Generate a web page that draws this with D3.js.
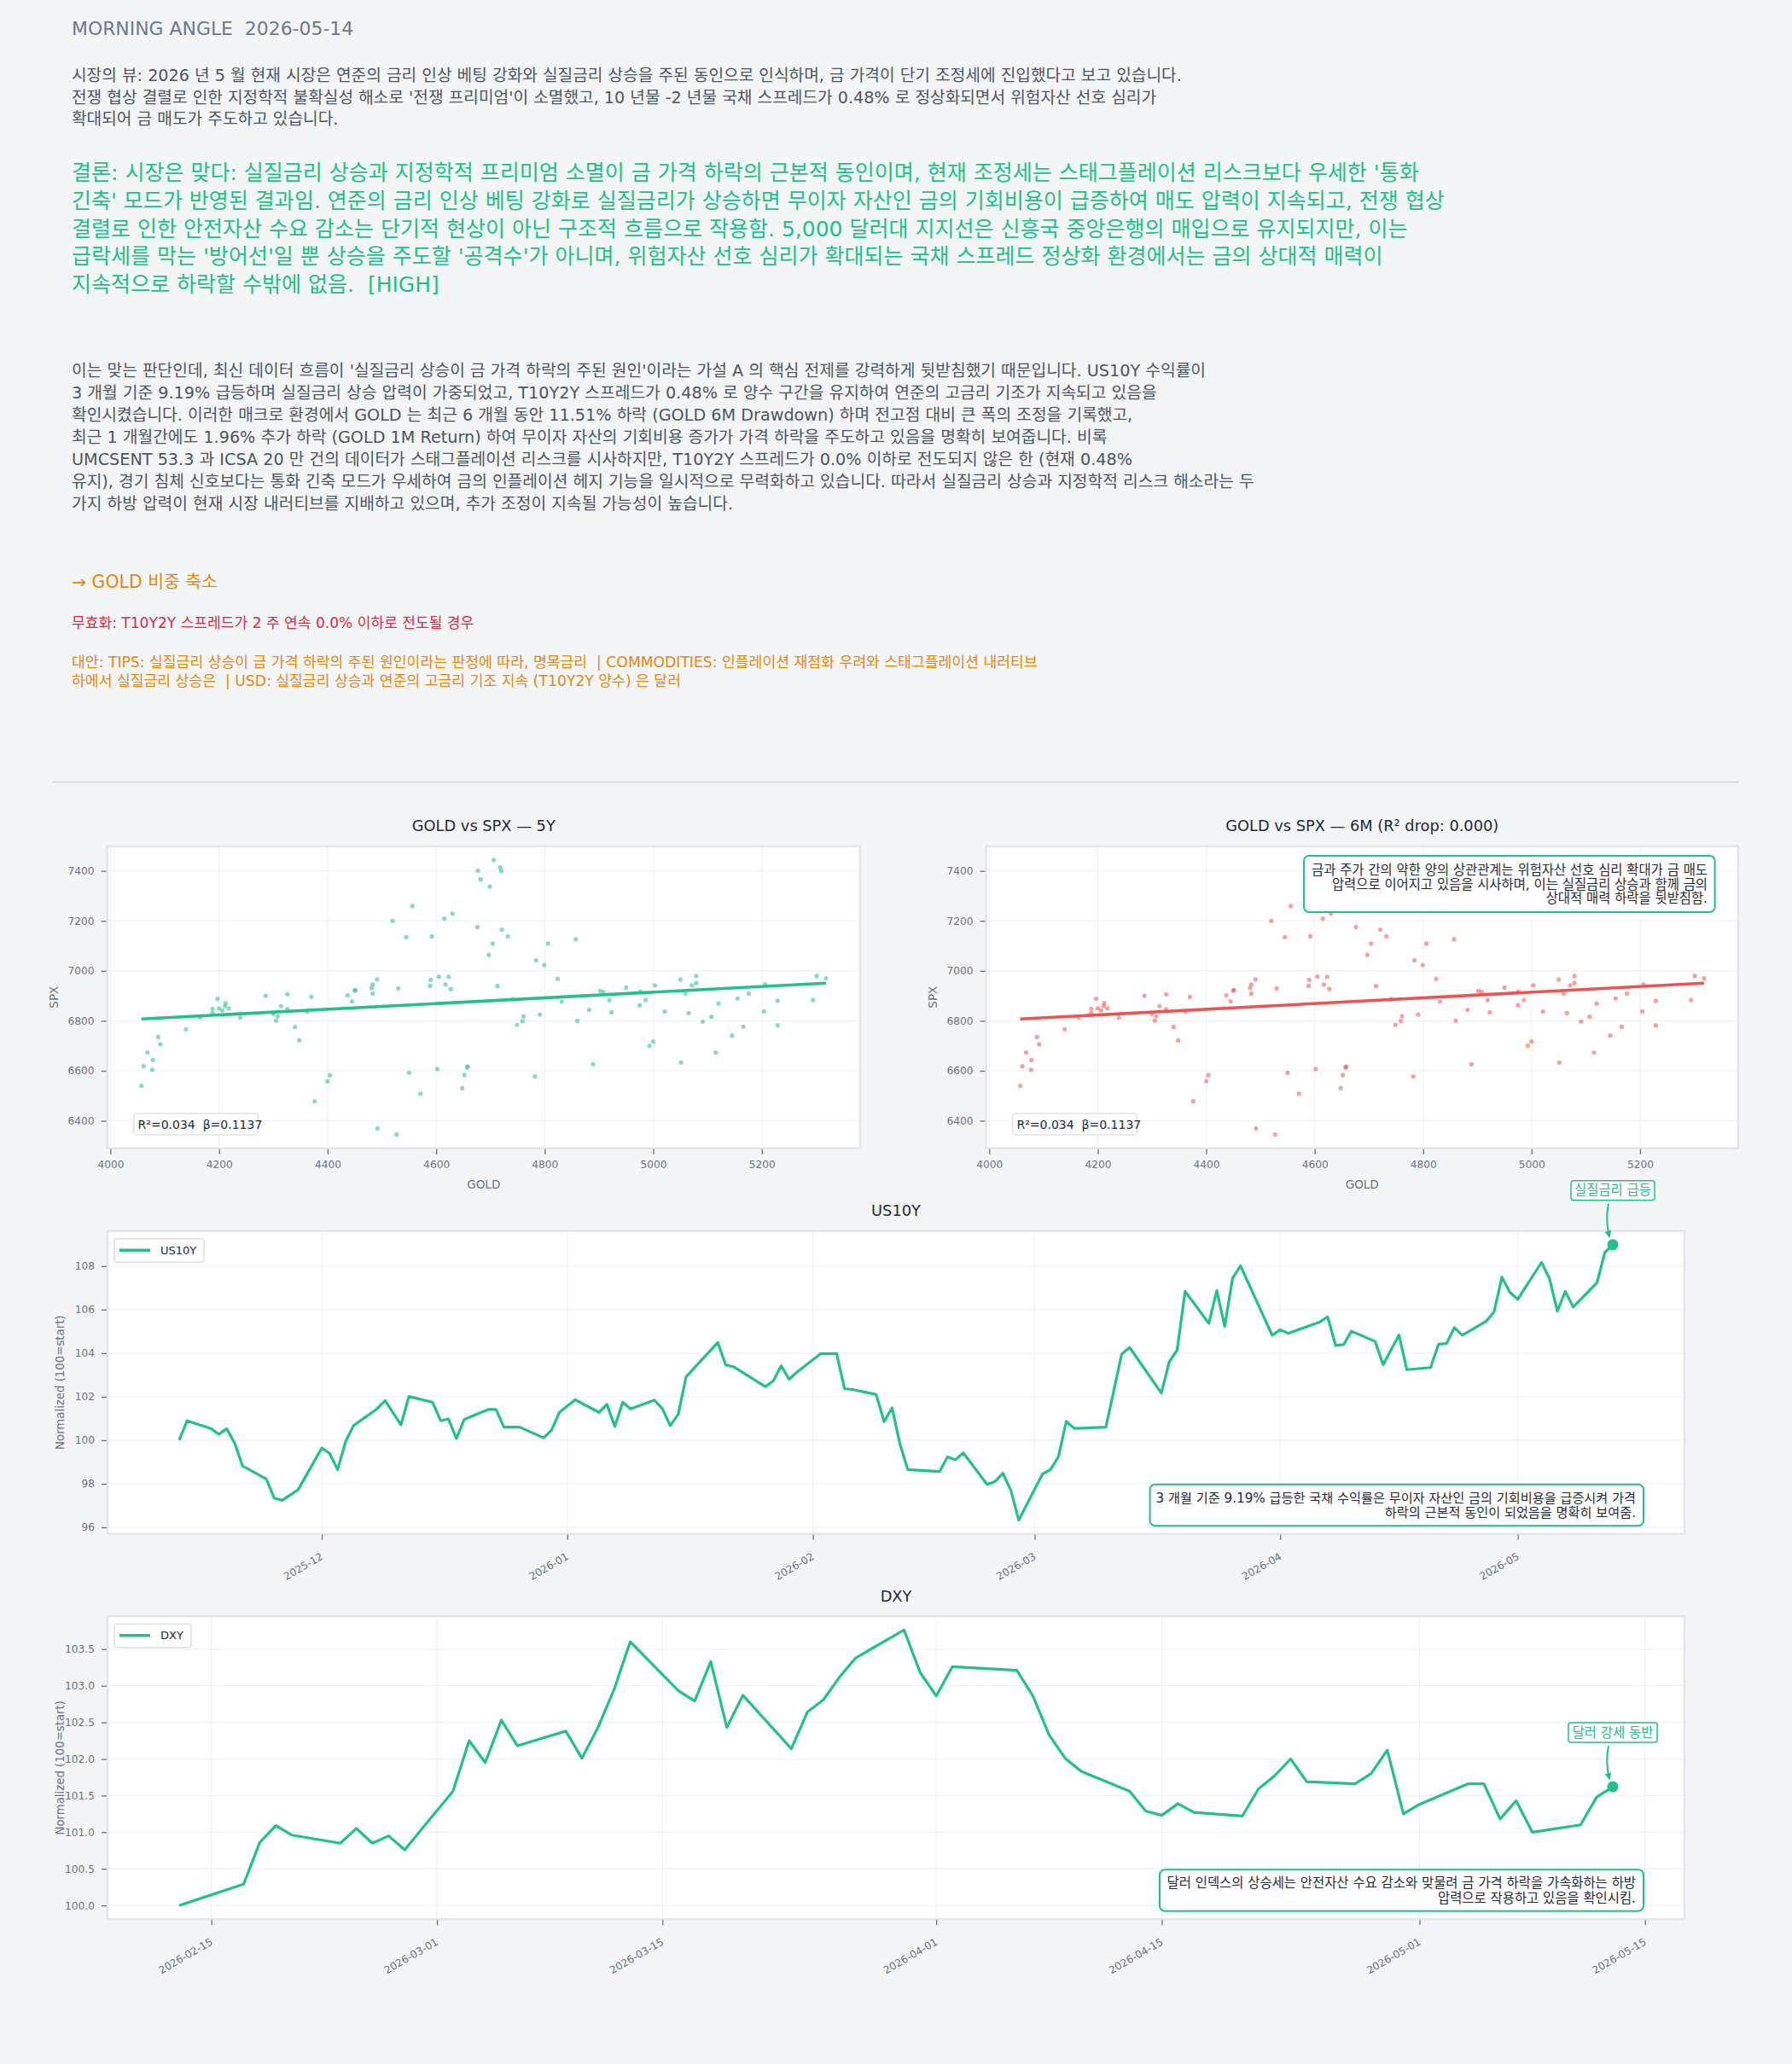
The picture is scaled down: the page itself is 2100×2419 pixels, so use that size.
<!DOCTYPE html>
<html><head><meta charset="utf-8">
<script src="https://cdn.jsdelivr.net/npm/d3@7"></script>
<style>
html,body{margin:0;padding:0;background:#f4f5f7;}
svg{display:block;}
</style></head><body>
<svg id="c" width="2100" height="2419"></svg>
<script>
// ---------------- DATA ----------------
const headerTitle = "MORNING ANGLE  2026-05-14";
const viewLines = [
  "시장의 뷰: 2026 년 5 월 현재 시장은 연준의 금리 인상 베팅 강화와 실질금리 상승을 주된 동인으로 인식하며, 금 가격이 단기 조정세에 진입했다고 보고 있습니다.",
  "전쟁 협상 결렬로 인한 지정학적 불확실성 해소로 '전쟁 프리미엄'이 소멸했고, 10 년물 -2 년물 국채 스프레드가 0.48% 로 정상화되면서 위험자산 선호 심리가",
  "확대되어 금 매도가 주도하고 있습니다."
];
const conclusionLines = [
  "결론: 시장은 맞다: 실질금리 상승과 지정학적 프리미엄 소멸이 금 가격 하락의 근본적 동인이며, 현재 조정세는 스태그플레이션 리스크보다 우세한 '통화",
  "긴축' 모드가 반영된 결과임. 연준의 금리 인상 베팅 강화로 실질금리가 상승하면 무이자 자산인 금의 기회비용이 급증하여 매도 압력이 지속되고, 전쟁 협상",
  "결렬로 인한 안전자산 수요 감소는 단기적 현상이 아닌 구조적 흐름으로 작용함. 5,000 달러대 지지선은 신흥국 중앙은행의 매입으로 유지되지만, 이는",
  "급락세를 막는 '방어선'일 뿐 상승을 주도할 '공격수'가 아니며, 위험자산 선호 심리가 확대되는 국채 스프레드 정상화 환경에서는 금의 상대적 매력이",
  "지속적으로 하락할 수밖에 없음.  [HIGH]"
];
const bodyLines = [
  "이는 맞는 판단인데, 최신 데이터 흐름이 '실질금리 상승이 금 가격 하락의 주된 원인'이라는 가설 A 의 핵심 전제를 강력하게 뒷받침했기 때문입니다. US10Y 수익률이",
  "3 개월 기준 9.19% 급등하며 실질금리 상승 압력이 가중되었고, T10Y2Y 스프레드가 0.48% 로 양수 구간을 유지하여 연준의 고금리 기조가 지속되고 있음을",
  "확인시켰습니다. 이러한 매크로 환경에서 GOLD 는 최근 6 개월 동안 11.51% 하락 (GOLD 6M Drawdown) 하며 전고점 대비 큰 폭의 조정을 기록했고,",
  "최근 1 개월간에도 1.96% 추가 하락 (GOLD 1M Return) 하여 무이자 자산의 기회비용 증가가 가격 하락을 주도하고 있음을 명확히 보여줍니다. 비록",
  "UMCSENT 53.3 과 ICSA 20 만 건의 데이터가 스태그플레이션 리스크를 시사하지만, T10Y2Y 스프레드가 0.0% 이하로 전도되지 않은 한 (현재 0.48%",
  "유지), 경기 침체 신호보다는 통화 긴축 모드가 우세하여 금의 인플레이션 헤지 기능을 일시적으로 무력화하고 있습니다. 따라서 실질금리 상승과 지정학적 리스크 해소라는 두",
  "가지 하방 압력이 현재 시장 내러티브를 지배하고 있으며, 추가 조정이 지속될 가능성이 높습니다."
];
const actionLine = "→ GOLD 비중 축소";
const invalidLine = "무효화: T10Y2Y 스프레드가 2 주 연속 0.0% 이하로 전도될 경우";
const altLines = [
  "대안: TIPS: 실질금리 상승이 금 가격 하락의 주된 원인이라는 판정에 따라, 명목금리  | COMMODITIES: 인플레이션 재점화 우려와 스태그플레이션 내러티브",
  "하에서 실질금리 상승은  | USD: 실질금리 상승과 연준의 고금리 기조 지속 (T10Y2Y 양수) 은 달러"
];

// scatter (GOLD vs SPX)
const scatterGold = [4057,4061,4068,4078,4077,4088,4092,4139,4165,4188,4188,4197,4200,4206,4212,4211,4218,4239,4286,4300,4305,4308,4314,4326,4326,4340,4348,4362,4370,4376,4400,4404,4437,4445,4450,4451,4481,4483,4483,4491,4492,4527,4520,4530,4545,4556,4550,4571,4589,4590,4592,4602,4605,4615,4617,4623,4627,4630,4648,4652,4657,4658,4676,4677,4682,4699,4706,4718,4720,4697,4704,4721,4732,4713,4741,4749,4759,4761,4784,4799,4806,4782,4791,4824,4831,4857,4860,4882,4889,4902,4908,4919,4923,4950,4975,4976,4986,4993,5000,5003,5021,5050,5051,5059,5065,5071,5079,5079,5091,5107,5115,5120,5145,5155,5166,5176,5204,5206,5229,5229,5294,5301,5318];
const scatterSpx = [6540,6618,6673,6643,6604,6735,6706,6766,6813,6848,6831,6888,6850,6841,6871,6859,6850,6813,6900,6828,6801,6818,6859,6906,6846,6775,6722,6836,6896,6478,6558,6582,6902,6878,6921,6923,6931,6945,6909,6966,6369,6345,7200,6930,7135,7259,6592,6508,6940,6964,7138,6607,6977,7209,6945,6976,6927,7229,6530,6583,6613,6617,7175,7401,7366,7337,7444,7414,7400,7064,7109,7165,7138,6939,6887,6784,6799,6818,7042,7023,7109,6577,6825,6968,6877,7126,6800,6844,6626,6920,6915,6883,6834,6933,6862,6917,6883,6700,6717,6942,6837,6965,6633,6909,6831,6942,6951,6979,6797,6816,6673,6869,6741,6890,6776,6909,6838,6946,6880,6782,6883,6979,6970];
const regBeta = 0.1137, regAlpha = 6346, regR2 = 0.034, r2Drop = 0.000;
const scatterXTicks = [4000,4200,4400,4600,4800,5000,5200];
const scatterYTicks = [6400,6600,6800,7000,7200,7400];

// US10Y normalized
const us10yDates = ["2025-11-13","2025-11-14","2025-11-17","2025-11-18","2025-11-19","2025-11-20","2025-11-21","2025-11-24","2025-11-25","2025-11-26","2025-11-28","2025-12-01","2025-12-02","2025-12-03","2025-12-04","2025-12-05","2025-12-08","2025-12-09","2025-12-11","2025-12-12","2025-12-15","2025-12-16","2025-12-17","2025-12-18","2025-12-19","2025-12-22","2025-12-23","2025-12-24","2025-12-26","2025-12-29","2025-12-30","2025-12-31","2026-01-02","2026-01-05","2026-01-06","2026-01-07","2026-01-08","2026-01-09","2026-01-12","2026-01-13","2026-01-14","2026-01-15","2026-01-16","2026-01-20","2026-01-21","2026-01-22","2026-01-26","2026-01-27","2026-01-28","2026-01-29","2026-01-30","2026-02-02","2026-02-03","2026-02-04","2026-02-05","2026-02-06","2026-02-09","2026-02-10","2026-02-11","2026-02-12","2026-02-13","2026-02-17","2026-02-18","2026-02-19","2026-02-20","2026-02-23","2026-02-24","2026-02-25","2026-02-26","2026-02-27","2026-03-02","2026-03-03","2026-03-04","2026-03-05","2026-03-06","2026-03-10","2026-03-12","2026-03-13","2026-03-17","2026-03-18","2026-03-19","2026-03-20","2026-03-23","2026-03-24","2026-03-25","2026-03-26","2026-03-27","2026-03-31","2026-04-01","2026-04-02","2026-04-06","2026-04-07","2026-04-08","2026-04-09","2026-04-10","2026-04-13","2026-04-14","2026-04-16","2026-04-17","2026-04-20","2026-04-21","2026-04-22","2026-04-23","2026-04-24","2026-04-27","2026-04-28","2026-04-29","2026-04-30","2026-05-01","2026-05-04","2026-05-05","2026-05-06","2026-05-07","2026-05-08","2026-05-11","2026-05-12","2026-05-13"];
const us10yValues = [100.0,100.89,100.54,100.27,100.53,99.87,98.82,98.22,97.34,97.24,97.72,99.64,99.39,98.65,99.93,100.67,101.45,101.82,100.71,102.01,101.74,100.9,100.97,100.08,100.96,101.41,101.41,100.6,100.6,100.11,100.45,101.28,101.86,101.28,101.65,100.63,101.74,101.44,101.84,101.45,100.67,101.19,102.91,104.49,103.46,103.37,102.46,102.72,103.42,102.8,103.13,103.98,103.97,103.98,102.37,102.33,102.1,100.85,101.49,99.82,98.65,98.56,99.23,99.1,99.42,97.97,98.1,98.48,97.7,96.33,98.45,98.65,99.23,100.87,100.54,100.6,103.96,104.26,102.17,103.6,104.15,106.84,105.37,106.87,105.23,107.45,108.01,104.82,105.08,104.91,105.43,105.67,104.35,104.39,105.01,104.54,103.47,104.83,103.24,103.34,104.41,104.44,105.17,104.82,105.46,105.89,107.49,106.8,106.47,108.17,107.43,105.93,106.84,106.12,107.23,108.63,108.98];
const us10yYTicks = [96,98,100,102,104,106,108];
const us10yXTicks = ["2025-12-01","2026-01-01","2026-02-01","2026-03-01","2026-04-01","2026-05-01"];
const us10yNote = ["3 개월 기준 9.19% 급등한 국채 수익률은 무이자 자산인 금의 기회비용을 급증시켜 가격","하락의 근본적 동인이 되었음을 명확히 보여줌."];
const us10yTag = "실질금리 급등";

// DXY normalized
const dxyDates = ["2026-02-13","2026-02-17","2026-02-18","2026-02-19","2026-02-20","2026-02-23","2026-02-24","2026-02-25","2026-02-26","2026-02-27","2026-03-02","2026-03-03","2026-03-04","2026-03-05","2026-03-06","2026-03-09","2026-03-10","2026-03-11","2026-03-12","2026-03-13","2026-03-16","2026-03-17","2026-03-18","2026-03-19","2026-03-20","2026-03-23","2026-03-24","2026-03-25","2026-03-26","2026-03-27","2026-03-30","2026-03-31","2026-04-01","2026-04-02","2026-04-06","2026-04-07","2026-04-08","2026-04-09","2026-04-10","2026-04-13","2026-04-14","2026-04-15","2026-04-16","2026-04-17","2026-04-20","2026-04-21","2026-04-22","2026-04-23","2026-04-24","2026-04-27","2026-04-28","2026-04-29","2026-04-30","2026-05-01","2026-05-04","2026-05-05","2026-05-06","2026-05-07","2026-05-08","2026-05-11","2026-05-12","2026-05-13"];
const dxyValues = [100.0,100.29,100.86,101.09,100.96,100.85,101.05,100.85,100.95,100.76,101.56,102.25,101.95,102.53,102.18,102.38,102.01,102.43,102.95,103.6,102.93,102.79,103.33,102.43,102.87,102.14,102.64,102.81,103.12,103.38,103.76,103.18,102.86,103.26,103.21,102.86,102.33,102.01,101.83,101.56,101.29,101.23,101.39,101.27,101.22,101.59,101.77,102.0,101.69,101.66,101.8,102.12,101.25,101.38,101.66,101.66,101.18,101.43,101.0,101.1,101.48,101.62];
const dxyYTicks = [100.0,100.5,101.0,101.5,102.0,102.5,103.0,103.5];
const dxyXTicks = ["2026-02-15","2026-03-01","2026-03-15","2026-04-01","2026-04-15","2026-05-01","2026-05-15"];
const dxyNote = ["달러 인덱스의 상승세는 안전자산 수요 감소와 맞물려 금 가격 하락을 가속화하는 하방","압력으로 작용하고 있음을 확인시킴."];
const dxyTag = "달러 강세 동반";
const scatterNote = ["금과 주가 간의 약한 양의 상관관계는 위험자산 선호 심리 확대가 금 매도","압력으로 이어지고 있음을 시사하며, 이는 실질금리 상승과 함께 금의","상대적 매력 하락을 뒷받침함."];

// ---------------- STYLE ----------------
const FONT = '"DejaVu Sans","Noto Sans CJK KR",sans-serif';
const GREEN = "#22c08a", RED = "#ef5350";
const TICKC = "#6b7280", TITLEC = "#1f2937", GRIDC = "#eeeff2", FRAMEC = "#e2e5e9";

const svg = d3.select("#c").attr("font-family", FONT);
svg.append("rect").attr("width",2100).attr("height",2419).attr("fill","#f4f5f7");

const defs = svg.append("defs");
defs.append("marker").attr("id","arrowG").attr("viewBox","0 0 10 10").attr("refX",9).attr("refY",5)
  .attr("markerWidth",4).attr("markerHeight",4).attr("orient","auto-start-reverse")
  .append("path").attr("d","M0,0 L10,5 L0,10 z").attr("fill",GREEN);

function textBlock(parent, lines, x, y0, pitch, size, color, anchor) {
  const t = parent.append("text").attr("font-size",size).attr("fill",color).attr("font-family",FONT)
    .attr("dominant-baseline","central").attr("text-anchor",anchor||"start").style("white-space","pre");
  t.selectAll("tspan").data(lines).join("tspan").attr("x",x).attr("y",(d,i)=>y0+i*pitch).text(d=>d);
  return t;
}
// scale a text block's font so that one reference line spans the width measured on the original
function fitWidth(t, idx, target){
  for (let k=0;k<2;k++){
    const w = t.selectAll("tspan").nodes()[idx].getComputedTextLength();
    if (w>0) t.attr("font-size", (+t.attr("font-size"))*target/w);
  }
  return +t.attr("font-size");
}

// ---------------- TEXT SECTION ----------------
fitWidth(textBlock(svg,[headerTitle], 84, 32.5, 0, 21, "#6b7890"), 0, 330);
fitWidth(textBlock(svg,viewLines, 84, 88, 25.5, 18, "#4b5563"), 0, 1301);
fitWidth(textBlock(svg,conclusionLines, 84, 202, 32.8, 23.5, "#1cc285"), 0, 1579);
fitWidth(textBlock(svg,bodyLines, 84, 433.6, 26, 18, "#4b5563"), 5, 1386);
fitWidth(textBlock(svg,[actionLine], 84, 682, 0, 20, "#e8870e"), 0, 171);
fitWidth(textBlock(svg,[invalidLine], 84, 730, 0, 16, "#e0293e"), 0, 471);
fitWidth(textBlock(svg,altLines, 84, 776, 22, 16, "#e8870e"), 0, 1132);
svg.append("line").attr("x1",62).attr("x2",2037).attr("y1",916.5).attr("y2",916.5).attr("stroke","#cfd5dd").attr("stroke-width",1.5);

function pad(ext){ const r = ext[1]-ext[0]; return [ext[0]-0.05*r, ext[1]+0.05*r]; }
function styleAxis(g){
  g.select(".domain").remove();
  g.selectAll(".tick line").attr("stroke",TICKC).attr("stroke-width",1.3);
  g.selectAll(".tick text").attr("fill",TICKC).attr("font-size",12.2).attr("font-family",FONT);
}
function box(g, x, y, w, h, stroke, sw, rx){
  return g.append("rect").attr("x",x).attr("y",y).attr("width",w).attr("height",h).attr("rx",rx)
    .attr("fill","#fff").attr("stroke",stroke).attr("stroke-width",sw);
}

// ---------------- SCATTER PANELS ----------------
function scatterPanel(o){
  const g = svg.append("g");
  const x = d3.scaleLinear().domain(pad(d3.extent(scatterGold))).range([o.left,o.right]);
  const y = d3.scaleLinear().domain(pad(d3.extent(scatterSpx))).range([o.bottom,o.top]);
  g.append("rect").attr("x",o.left).attr("y",o.top).attr("width",o.right-o.left).attr("height",o.bottom-o.top)
    .attr("fill","#fff").attr("stroke",FRAMEC).attr("stroke-width",2.5);
  g.selectAll(".gx").data(scatterXTicks).join("line").attr("x1",d=>x(d)).attr("x2",d=>x(d))
    .attr("y1",o.top+1).attr("y2",o.bottom-1).attr("stroke",GRIDC);
  g.selectAll(".gy").data(scatterYTicks).join("line").attr("y1",d=>y(d)).attr("y2",d=>y(d))
    .attr("x1",o.left+1).attr("x2",o.right-1).attr("stroke",GRIDC);
  const ax = g.append("g").attr("transform",`translate(0,${o.bottom+1})`)
    .call(d3.axisBottom(x).tickValues(scatterXTicks).tickSize(6).tickPadding(8).tickFormat(d3.format("d")));
  styleAxis(ax);
  const ay = g.append("g").attr("transform",`translate(${o.left-1},0)`)
    .call(d3.axisLeft(y).tickValues(scatterYTicks).tickSize(6).tickPadding(8).tickFormat(d3.format("d")));
  styleAxis(ay);
  g.selectAll(".pt").data(scatterGold).join("circle")
    .attr("cx",(d)=>x(d)).attr("cy",(d,i)=>y(scatterSpx[i])).attr("r",2.6)
    .attr("fill",o.color).attr("fill-opacity",0.55);
  const xr = d3.extent(scatterGold);
  g.append("line").attr("x1",x(xr[0])).attr("x2",x(xr[1]))
    .attr("y1",y(regAlpha+regBeta*xr[0])).attr("y2",y(regAlpha+regBeta*xr[1]))
    .attr("stroke",o.color).attr("stroke-width",3.6);
  const cx = (o.left+o.right)/2;
  g.append("text").attr("x",cx).attr("y",967).attr("text-anchor","middle").attr("dominant-baseline","central")
    .attr("font-size",17.8).attr("fill",TITLEC).text(o.title);
  g.append("text").attr("x",cx).attr("y",1388).attr("text-anchor","middle").attr("dominant-baseline","central")
    .attr("font-size",13.5).attr("fill",TICKC).text("GOLD");
  g.append("text").attr("transform",`translate(${o.left-63},${(o.top+o.bottom)/2}) rotate(-90)`)
    .attr("text-anchor","middle").attr("dominant-baseline","central")
    .attr("font-size",13.5).attr("fill",TICKC).text("SPX");
  box(g, o.left+31, 1305, 146, 25, "#dde1e6", 1.5, 4);
  g.append("text").attr("x",o.left+36).attr("y",1317.5).attr("dominant-baseline","central").style("white-space","pre")
    .attr("font-size",14).attr("fill",TITLEC).text(`R²=${regR2.toFixed(3)}  β=${regBeta.toFixed(4)}`);
  return g;
}
scatterPanel({left:125.6,right:1008,top:991.7,bottom:1345.7,color:GREEN,title:"GOLD vs SPX — 5Y"});
const g6 = scatterPanel({left:1155.5,right:2037,top:991.7,bottom:1345.7,color:RED,title:`GOLD vs SPX — 6M (R² drop: ${r2Drop.toFixed(3)})`});
box(g6, 1528, 1003, 481.6, 66, GREEN, 2, 6);
const noteSize = fitWidth(textBlock(g6, scatterNote, 2001, 1020, 16.7, 14, TITLEC, "end"), 0, 464);

// ---------------- LINE PANELS ----------------
const parse = d3.timeParse("%Y-%m-%d");
function linePanel(o){
  const g = svg.append("g");
  const dates = o.dates.map(parse);
  const te = d3.extent(dates), tr = te[1]-te[0];
  const x = d3.scaleTime().domain([new Date(+te[0]-0.05*tr), new Date(+te[1]+0.05*tr)]).range([o.left,o.right]);
  const y = d3.scaleLinear().domain(pad(d3.extent(o.values))).range([o.bottom,o.top]);
  const xt = o.xticks.map(parse);
  g.append("rect").attr("x",o.left).attr("y",o.top).attr("width",o.right-o.left).attr("height",o.bottom-o.top)
    .attr("fill","#fff").attr("stroke",FRAMEC).attr("stroke-width",2.5);
  g.selectAll(".gx").data(xt).join("line").attr("x1",d=>x(d)).attr("x2",d=>x(d))
    .attr("y1",o.top+1).attr("y2",o.bottom-1).attr("stroke",GRIDC);
  g.selectAll(".gy").data(o.yticks).join("line").attr("y1",d=>y(d)).attr("y2",d=>y(d))
    .attr("x1",o.left+1).attr("x2",o.right-1).attr("stroke",GRIDC);
  const ax = g.append("g").attr("transform",`translate(0,${o.bottom+1})`)
    .call(d3.axisBottom(x).tickValues(xt).tickSize(6).tickFormat(d3.timeFormat(o.xfmt)));
  styleAxis(ax);
  ax.selectAll(".tick text").attr("text-anchor","end").attr("x",0).attr("y",0).attr("dy",0)
    .attr("transform","translate(2,28) rotate(-30)");
  const ay = g.append("g").attr("transform",`translate(${o.left-1},0)`)
    .call(d3.axisLeft(y).tickValues(o.yticks).tickSize(6).tickPadding(8).tickFormat(d3.format(o.yfmt)));
  styleAxis(ay);
  g.append("text").attr("transform",`translate(70,${(o.top+o.bottom)/2}) rotate(-90)`)
    .attr("text-anchor","middle").attr("dominant-baseline","central").attr("font-size",13.3).attr("fill",TICKC)
    .text("Normalized (100=start)");
  g.append("text").attr("x",1050).attr("y",o.titleY).attr("text-anchor","middle").attr("dominant-baseline","central")
    .attr("font-size",17.8).attr("fill",TITLEC).text(o.title);
  const line = d3.line().x((d,i)=>x(dates[i])).y(d=>y(d));
  g.append("path").datum(o.values).attr("d",line).attr("fill","none").attr("stroke",GREEN)
    .attr("stroke-width",3.2).attr("stroke-linejoin","round");
  box(g, o.left+8, o.top+9, o.legW, 27.5, "#dcdfe4", 1.5, 3);
  g.append("line").attr("x1",o.left+14).attr("x2",o.left+50).attr("y1",o.top+22.5).attr("y2",o.top+22.5)
    .attr("stroke",GREEN).attr("stroke-width",3.5);
  g.append("text").attr("x",o.left+62).attr("y",o.top+22.5).attr("dominant-baseline","central")
    .attr("font-size",13).attr("fill",TITLEC).text(o.title);
  const lx = x(dates[dates.length-1]), ly = y(o.values[o.values.length-1]);
  g.append("circle").attr("cx",lx).attr("cy",ly).attr("r",6.5).attr("fill",GREEN);
  const tw = o.tagW;
  box(g, lx-tw/2, ly-75, tw, 23, GREEN, 1.5, 3);
  g.append("text").attr("x",lx).attr("y",ly-63.5).attr("text-anchor","middle").attr("dominant-baseline","central")
    .attr("font-size",noteSize).attr("fill",GREEN).text(o.tag);
  g.append("path").attr("d",`M${lx-5},${ly-48} Q${lx-9},${ly-30} ${lx-4},${ly-9}`)
    .attr("fill","none").attr("stroke",GREEN).attr("stroke-width",2).attr("marker-end","url(#arrowG)");
  box(g, o.noteX, o.bottom-58, 1926-o.noteX, 48.5, GREEN, 2, 6);
  fitWidth(textBlock(g, o.note, 1917, o.bottom-42, 17.6, noteSize, TITLEC, "end"), 0, o.noteW);
}
linePanel({left:126,right:1974,top:1442.7,bottom:1797.7,dates:us10yDates,values:us10yValues,yticks:us10yYTicks,
  xticks:us10yXTicks,xfmt:"%Y-%m",yfmt:"d",title:"US10Y",titleY:1418,legW:105,tag:us10yTag,tagW:98,note:us10yNote,noteX:1347.6,noteW:562});
linePanel({left:126,right:1974,top:1894.3,bottom:2249.3,dates:dxyDates,values:dxyValues,yticks:dxyYTicks,
  xticks:dxyXTicks,xfmt:"%Y-%m-%d",yfmt:".1f",title:"DXY",titleY:1870,legW:90,tag:dxyTag,tagW:104,note:dxyNote,noteX:1359,noteW:549});
</script>
</body></html>
